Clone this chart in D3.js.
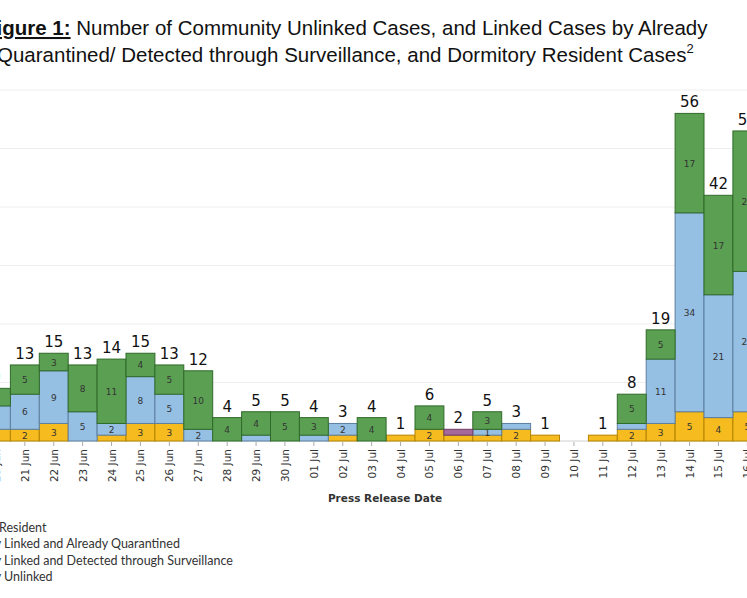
<!DOCTYPE html>
<html><head><meta charset="utf-8">
<script src="https://cdn.jsdelivr.net/npm/d3@7"></script>
<style>body{margin:0;background:#fff}svg{display:block}</style>
</head><body>
<svg id="c" width="747" height="598"></svg>
<script>
const dates = ["20 Jun","21 Jun","22 Jun","23 Jun","24 Jun","25 Jun","26 Jun","27 Jun","28 Jun","29 Jun","30 Jun","01 Jul","02 Jul","03 Jul","04 Jul","05 Jul","06 Jul","07 Jul","08 Jul","09 Jul","10 Jul","11 Jul","12 Jul","13 Jul","14 Jul","15 Jul","16 Jul"];
const unlinked    = [2,2,3,0,1,3,3,0,0,0,0,0,1,0,1,2,1,1,2,1,0,1,2,3,5,4,5];
const surveil     = [4,6,9,5,2,8,5,2,0,1,0,1,2,0,0,0,0,1,1,0,0,0,1,11,34,21,24];
const quarantined = [3,5,3,8,11,4,5,10,4,4,5,3,0,4,0,4,0,3,0,0,0,0,5,5,17,17,24];
const dormitory   = [0,0,0,0,0,0,0,0,0,0,0,0,0,0,0,0,1,0,0,0,0,0,0,0,0,0,0];
const yTicks = [0,10,20,30,40,50,60];
const seriesNames = ["Dormitory Resident","Community Linked and Already Quarantined","Community Linked and Detected through Surveillance","Community Unlinked"];
const visibleParts = ["Resident","Linked and Already Quarantined","Linked and Detected through Surveillance","Unlinked"];

const svg = d3.select("#c");
const x = d3.scaleBand().domain(dates).range([-18.5, -18.5 + 27*28.9]).padding(0);
const y = d3.scaleLinear().domain([0,60]).range([441, 90]);
const keys = ["unlinked","surveil","quarantined","dormitory"];
const fill = {unlinked:"#f6bb1e", surveil:"#95bfe3", quarantined:"#5ba052", dormitory:"#a5699b"};
const stroke = {unlinked:"#b58400", surveil:"#5d7f9e", quarantined:"#2f6a28", dormitory:"#6e3e66"};
const rows = dates.map((d,i)=>({date:d, unlinked:unlinked[i], surveil:surveil[i], quarantined:quarantined[i], dormitory:dormitory[i]}));
const stack = d3.stack().keys(keys)(rows);

svg.append("g").selectAll("line").data(yTicks).join("line")
  .attr("x1",0).attr("x2",747).attr("y1",d=>y(d)).attr("y2",d=>y(d))
  .attr("stroke",d=>d===0?"#d0d0d0":"#eeeeee").attr("stroke-width",1);

stack.forEach(s=>{
  const g = svg.append("g");
  g.selectAll("rect").data(s.filter(d=>d[1]>d[0])).join("rect")
    .attr("x",d=>x(d.data.date)).attr("width",x.bandwidth())
    .attr("y",d=>y(d[1])).attr("height",d=>y(d[0])-y(d[1]))
    .attr("fill",fill[s.key]).attr("stroke",stroke[s.key]).attr("stroke-width",1);
  g.selectAll("text").data(s.filter(d=>d[1]-d[0]>=2 || (d[1]-d[0]>=1 && d.data.date==="07 Jul" && s.key==="surveil"))).join("text")
    .attr("x",d=>x(d.data.date)+x.bandwidth()/2)
    .attr("y",d=>(y(d[0])+y(d[1]))/2+3.5)
    .attr("text-anchor","middle").attr("font-family","DejaVu Sans, sans-serif").attr("font-size",9)
    .attr("fill","#333").text(d=>d[1]-d[0]);
});
svg.append("g").selectAll("text").data(rows.filter(r=>keys.reduce((a,k)=>a+r[k],0)>0)).join("text")
  .attr("x",d=>x(d.date)+x.bandwidth()/2)
  .attr("y",d=>y(keys.reduce((a,k)=>a+d[k],0))-6)
  .attr("text-anchor","middle").attr("font-family","DejaVu Sans, sans-serif").attr("font-size",15)
  .attr("fill","#111").text(d=>keys.reduce((a,k)=>a+d[k],0));

const ax = svg.append("g");
ax.selectAll("line").data(dates).join("line")
  .attr("x1",d=>x(d)+x.bandwidth()/2).attr("x2",d=>x(d)+x.bandwidth()/2)
  .attr("y1",442).attr("y2",446).attr("stroke","#aaa");
ax.selectAll("text").data(dates).join("text")
  .attr("transform",d=>`translate(${x(d)+x.bandwidth()/2+4},449) rotate(-90)`)
  .attr("text-anchor","end").attr("font-family","DejaVu Sans, sans-serif").attr("font-size",10.5)
  .attr("fill","#333").text(d=>d);
svg.append("text").attr("x",385).attr("y",502).attr("text-anchor","middle")
  .attr("font-family","DejaVu Sans, sans-serif").attr("font-size",10.5).attr("font-weight","bold")
  .attr("fill","#333").text("Press Release Date");

const t1 = svg.append("text").attr("x",-16).attr("y",35).attr("font-family","Liberation Sans, Arial, sans-serif").attr("font-size",20.5).attr("fill","#111");
t1.append("tspan").attr("font-weight","bold").attr("text-decoration","underline").text("Figure 1:");
t1.append("tspan").text(" Number of Community Unlinked Cases, and Linked Cases by Already");
const t2 = svg.append("text").attr("x",-3).attr("y",62).attr("font-family","Liberation Sans, Arial, sans-serif").attr("font-size",20.5).attr("fill","#111");
t2.append("tspan").text("Quarantined/ Detected through Surveillance, and Dormitory Resident Cases");
t2.append("tspan").attr("font-size",13).attr("dy",-9).text("2");

const legColors = [fill.dormitory, fill.quarantined, fill.surveil, fill.unlinked];
const lg = svg.append("g");
const measure = s => { const t = lg.append("text").attr("font-family","Lato, sans-serif").attr("font-size",12.5).text(s); const w = t.node().getComputedTextLength(); t.remove(); return w; };
seriesNames.forEach((n,i)=>{
  const yy = 532 + i*16.3;
  const w = measure(n) - measure(visibleParts[i]);
  const tx = (i===0 ? -1 : 4) - w;
  lg.append("rect").attr("x",tx-13).attr("y",yy-9).attr("width",9).attr("height",9).attr("fill",legColors[i]);
  lg.append("text").attr("y",yy).attr("x",tx)
    .attr("font-family","Lato, sans-serif").attr("font-size",12.5).attr("fill","#333").text(n);
});
</script>
</body></html>
